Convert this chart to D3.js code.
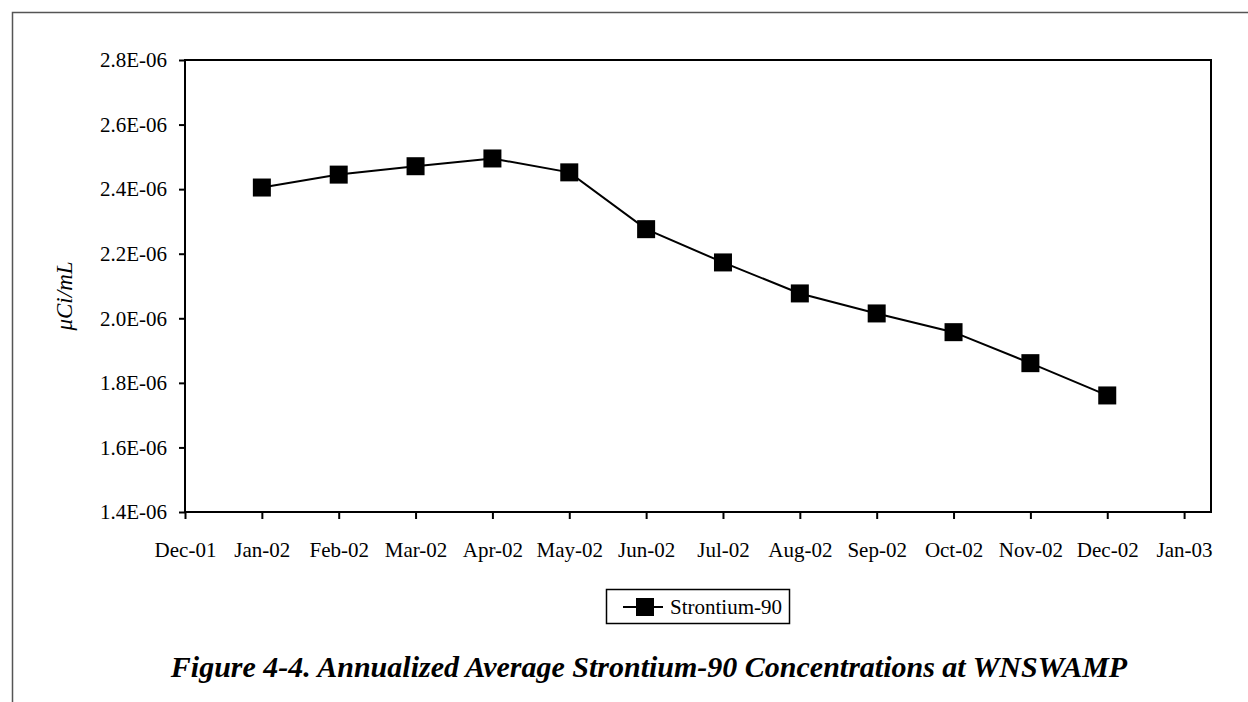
<!DOCTYPE html>
<html>
<head>
<meta charset="utf-8">
<script src="https://cdn.jsdelivr.net/npm/d3@7"></script>
<style>
  body { margin: 0; background: #fff; }
  svg text { font-family: 'Liberation Serif', 'DejaVu Serif', serif; fill: #000; }
</style>
</head>
<body>
<div id="vis-holder"></div>
<script>
// month labels along the x axis (Dec-01 .. Jan-03)
const tickLabels = ["Dec-01", "Jan-02", "Feb-02", "Mar-02", "Apr-02", "May-02", "Jun-02",
                    "Jul-02", "Aug-02", "Sep-02", "Oct-02", "Nov-02", "Dec-02", "Jan-03"];
// sample months (index into tickLabels) and annualized averages in uCi/mL
const months = [1, 2, 3, 4, 5, 6, 7, 8, 9, 10, 11, 12];
const sr90 = [2.405e-6, 2.445e-6, 2.471e-6, 2.495e-6, 2.452e-6, 2.276e-6,
              2.173e-6, 2.077e-6, 2.015e-6, 1.957e-6, 1.861e-6, 1.761e-6];
const yTicks = [1.4e-6, 1.6e-6, 1.8e-6, 2.0e-6, 2.2e-6, 2.4e-6, 2.6e-6, 2.8e-6];

const width = 1248, height = 702;
const margin = { top: 60, right: 37, bottom: 190, left: 185 };
const serif = "'Liberation Serif', 'DejaVu Serif', serif";

const svg = d3.select("#vis-holder")
  .append("svg")
  .attr("width", width)
  .attr("height", height);

// outer frame (only top and left edges are visible)
svg.append("path")
  .attr("d", `M12.5,${height} L12.5,12.5 L${width},12.5`)
  .attr("fill", "none")
  .attr("stroke", "#555")
  .attr("stroke-width", 1.5);

const x = d3.scaleLinear()
  .domain([0, 13.35])
  .range([margin.left, width - margin.right]);

const y = d3.scaleLinear()
  .domain([1.4e-6, 2.8e-6])
  .range([height - margin.bottom, margin.top]);

// plot area border
svg.append("rect")
  .attr("x", x(0))
  .attr("y", y(2.8e-6))
  .attr("width", x(13.35) - x(0))
  .attr("height", y(1.4e-6) - y(2.8e-6))
  .attr("fill", "none")
  .attr("stroke", "#000")
  .attr("stroke-width", 2);

const fmt = d => d3.format(".1e")(d).replace("e-6", "E-06");

svg.append("g")
  .attr("transform", `translate(${x(0)},0)`)
  .call(d3.axisLeft(y).tickValues(yTicks).tickSize(6).tickPadding(12).tickFormat(fmt))
  .call(g => g.attr("font-family", serif))
  .call(g => g.select(".domain").remove())
  .call(g => g.selectAll("line").attr("stroke", "#000").attr("stroke-width", 2))
  .call(g => g.selectAll("text").attr("font-size", "21px"));

svg.append("g")
  .attr("transform", `translate(0,${y(1.4e-6)})`)
  .call(d3.axisBottom(x).tickValues(d3.range(tickLabels.length)).tickSize(7).tickPadding(23)
          .tickFormat(i => tickLabels[i]))
  .call(g => g.attr("font-family", serif))
  .call(g => g.select(".domain").remove())
  .call(g => g.selectAll("line").attr("stroke", "#000").attr("stroke-width", 2))
  .call(g => g.selectAll("text").attr("font-size", "21px"));

// y axis title
svg.append("text")
  .attr("transform", `translate(72,${(margin.top + height - margin.bottom) / 2 + 10}) rotate(-90)`)
  .attr("text-anchor", "middle")
  .attr("font-size", "23px")
  .attr("font-style", "italic")
  .text("\u03BCCi/mL");

const pts = months.map((m, i) => [m, sr90[i]]);

svg.append("path")
  .datum(pts)
  .attr("fill", "none")
  .attr("stroke", "#000")
  .attr("stroke-width", 2)
  .attr("d", d3.line().x(d => x(d[0])).y(d => y(d[1])));

const ms = 18;
svg.selectAll(".marker")
  .data(pts)
  .enter()
  .append("rect")
  .attr("class", "marker")
  .attr("x", d => x(d[0]) - ms / 2)
  .attr("y", d => y(d[1]) - ms / 2)
  .attr("width", ms)
  .attr("height", ms)
  .attr("fill", "#000");

// legend
const lg = svg.append("g").attr("transform", "translate(606,589)");
lg.append("rect")
  .attr("x", 0.5).attr("y", 0.5)
  .attr("width", 183).attr("height", 34)
  .attr("fill", "#fff").attr("stroke", "#000").attr("stroke-width", 1.5);
lg.append("line")
  .attr("x1", 17).attr("x2", 57).attr("y1", 18).attr("y2", 18)
  .attr("stroke", "#000").attr("stroke-width", 2);
lg.append("rect")
  .attr("x", 39 - ms / 2).attr("y", 18 - ms / 2)
  .attr("width", ms).attr("height", ms).attr("fill", "#000");
lg.append("text")
  .attr("x", 64).attr("y", 25)
  .attr("font-size", "21px")
  .text("Strontium-90");

// figure caption
svg.append("text")
  .attr("x", 649)
  .attr("y", 677)
  .attr("text-anchor", "middle")
  .attr("font-size", "30px")
  .attr("font-weight", "bold")
  .attr("font-style", "italic")
  .text("Figure 4-4. Annualized Average Strontium-90 Concentrations at WNSWAMP");
</script>
</body>
</html>
